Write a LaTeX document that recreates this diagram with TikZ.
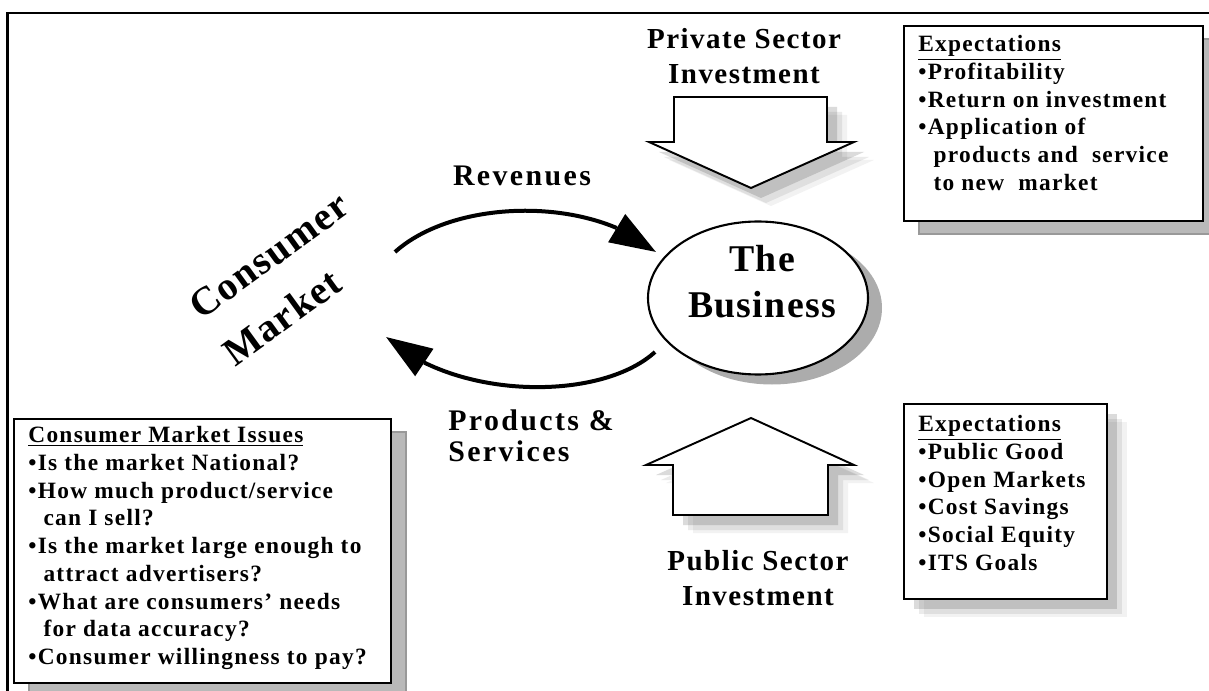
\documentclass[tikz,border=0pt]{standalone}
\usepackage{fontspec}
\setmainfont{Liberation Serif}
\newfontfamily\boxfont{Liberation Serif}[LetterSpace=5.5]
\newfontfamily\flowfont{Liberation Serif}[LetterSpace=8]
\newfontfamily\sectorfont{Liberation Serif}[LetterSpace=5]
\newfontfamily\bigfont{Liberation Serif}[LetterSpace=3.5]
\usetikzlibrary{arrows.meta,bending,shapes.geometric,shadows}
\newcommand{\contline}{\hspace*{0.65em}}

\tikzset{
  hardshadow/.style={drop shadow={shadow xshift=3mm, shadow yshift=-2.6mm, fill=gray!55, draw=gray!80, opacity=1}},
  softshadow/.style={
    drop shadow={shadow xshift=2mm, shadow yshift=-2mm, fill=black, opacity=.14},
    drop shadow={shadow xshift=3mm, shadow yshift=-3mm, fill=black, opacity=.08},
    drop shadow={shadow xshift=4mm, shadow yshift=-3.6mm, fill=black, opacity=.05}}
}

\begin{document}
\begin{tikzpicture}[x=0.2mm, y=-0.2mm,
  frame/.style={line width=1.3pt},
  infobox/.style={draw, line width=1.1pt, fill=white, inner sep=0pt, anchor=north west},
  infotext/.style={anchor=north west, inner sep=0pt, align=left, font={\boxfont\bfseries\fontsize{13.3}{15.8}\selectfont}},
  blockarrow/.style={draw, fill=white, line width=1.1pt, softshadow},
  bizshape/.style={ellipse, draw, line width=1.2pt, fill=white, minimum width=44mm, minimum height=30.6mm, inner sep=0pt,
    drop shadow={shadow xshift=2.8mm, shadow yshift=-2mm, fill=gray!65, opacity=1}},
  flow/.style={line width=0.8mm, -{Triangle[length=9.2mm, width=6.4mm]}},
  sector/.style={align=center, inner sep=0pt, font={\sectorfont\bfseries\fontsize{16.5}{19.5}\selectfont}},
  flowlabel/.style={inner sep=0pt, font={\flowfont\bfseries\fontsize{17}{17.6}\selectfont}},
  big/.style={inner sep=0pt, font={\bigfont\bfseries\fontsize{22.5}{32.8}\selectfont}}]

  \useasboundingbox (0,0) rectangle (1209,691);
  \draw[frame] (7.5,691) -- (7.5,13) -- (1209,13);

  \draw[blockarrow] (674,97) -- (827,97) -- (827,142) -- (854,142) -- (751,188) -- (649,142) -- (674,142) -- cycle;
  \draw[blockarrow] (751,418) -- (854,465) -- (828,465) -- (828,515) -- (673,515) -- (673,465) -- (646,465) -- cycle;

  \node[infobox, hardshadow, minimum width=59.8mm, minimum height=39mm] (privbox) at (903,25) {};
  \node[infobox, softshadow, minimum width=40.6mm, minimum height=39mm] (pubbox) at (903,403) {};
  \node[infobox, hardshadow, minimum width=75.4mm, minimum height=52.8mm] (issuebox) at (13,418) {};

  \node[infotext] (privtext) at (918,35) {\underline{Expectations}\\•Profitability\\•Return on investment\\•Application of\\\contline products and~ service\\\contline to new~ market};
  \node[infotext] (pubtext) at (918,415) {\underline{Expectations}\\•Public Good\\•Open Markets\\•Cost Savings\\•Social Equity\\•ITS Goals};
  \node[infotext] (issuetext) at (28,426) {\underline{Consumer Market Issues}\\•Is the market National?\\•How much product/service\\\contline can I sell?\\•Is the market large enough to\\\contline attract advertisers?\\•What are consumers’ needs\\\contline for data accuracy?\\•Consumer willingness to pay?};

  \node[bizshape] (biz) at (758,298) {};
  \node[big, align=center, font={\bigfont\bfseries\fontsize{21.5}{26.2}\selectfont}] (biztext) at (762,282) {The\\Business};

  \node[sector] (private) at (744,56) {Private Sector\\Investment};
  \node[sector] (public) at (758,578) {Public Sector\\Investment};
  \node[big, rotate=36, align=left] (consumer) at (286,279) {Consumer\\Market};
  \node[flowlabel] (revenues) at (522,176) {Revenues};
  \node[flowlabel, anchor=west, align=left] (products) at (448,436) {Products \&\\Services};

  \coordinate (revfrom) at (395,252);
  \coordinate (revto) at (656,252);
  \coordinate (prodfrom) at (655,352);
  \coordinate (prodto) at (386,337);
  \draw[flow] (revfrom) .. controls (455,198) and (592,196) .. (revto);
  \draw[flow] (prodfrom) .. controls (600,402) and (455,400) .. (prodto);

\end{tikzpicture}
\end{document}
